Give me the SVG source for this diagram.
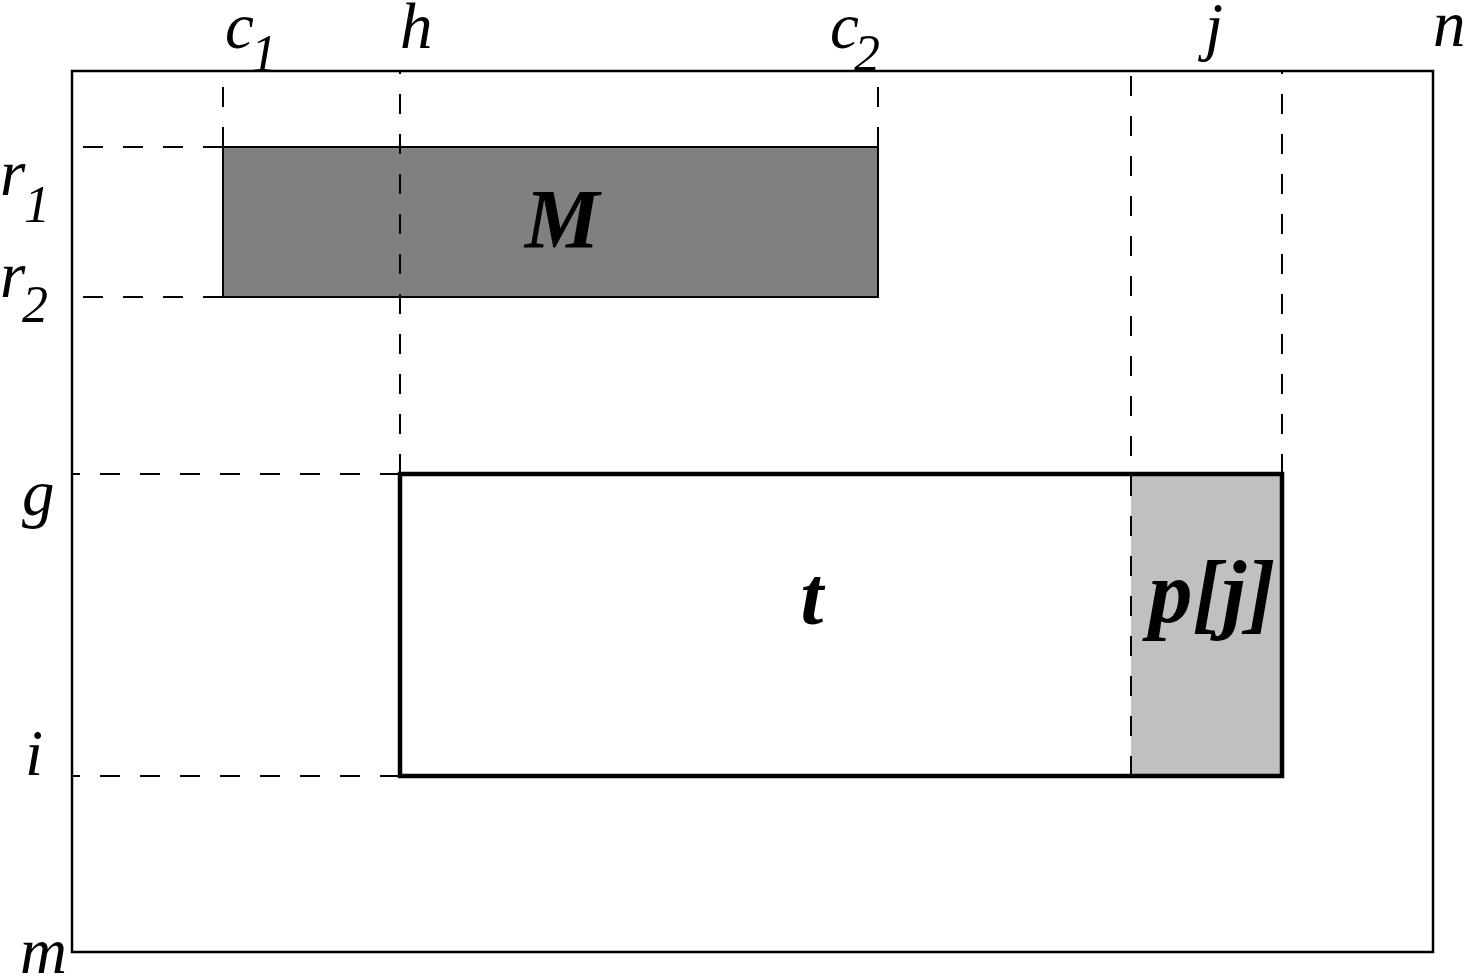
<svg xmlns="http://www.w3.org/2000/svg" width="1465" height="979" viewBox="0 0 1465 979">
<style>
.lbl{font-family:"Liberation Serif","Times New Roman",serif;font-style:italic;font-size:65px;fill:#000}
.sub{font-size:52px}
.big{font-family:"Liberation Serif","Times New Roman",serif;font-style:italic;font-weight:bold;font-size:82px;fill:#000;text-anchor:middle}
.dash{stroke:#000;stroke-width:2;stroke-dasharray:20 20;fill:none}
</style>
<rect width="1465" height="979" fill="#fff"/>
<g id="outer"><rect x="72" y="71" width="1361" height="881" fill="none" stroke="#000" stroke-width="2.5"/></g>
<g id="M">
<rect x="223" y="147" width="655" height="150" fill="#808080" stroke="#000" stroke-width="2"/>
<text class="big" x="562" y="248" style="font-size:84px">M</text>
</g>
<g id="t">
<rect x="400" y="474" width="882" height="302" fill="#fff" stroke="none"/>
<rect x="1131" y="474" width="151" height="302" fill="#c0c0c0" stroke="none"/>
<rect x="400" y="474" width="882" height="302" fill="none" stroke="#000" stroke-width="4.5"/>
<text class="big" x="812" y="624">t</text>
</g>
<g id="pj"><text class="big" x="1212" y="622" style="font-size:88px">p[j]</text></g>
<g id="connectors">
<line class="dash" x1="223" y1="147" x2="223" y2="71"/>
<line class="dash" x1="400" y1="474" x2="400" y2="71"/>
<line class="dash" x1="878" y1="147" x2="878" y2="71"/>
<line class="dash" x1="1131" y1="776" x2="1131" y2="71"/>
<line class="dash" x1="1282" y1="474" x2="1282" y2="71"/>
<line class="dash" x1="223" y1="147" x2="72" y2="147"/>
<line class="dash" x1="223" y1="297" x2="72" y2="297"/>
<line class="dash" x1="400" y1="474" x2="72" y2="474"/>
<line class="dash" x1="400" y1="776" x2="72" y2="776"/>
</g>
<g id="labels">
<text class="lbl" x="225" y="48">c</text><text class="lbl sub" x="251" y="71">1</text>
<text class="lbl" x="400" y="48">h</text>
<text class="lbl" x="830" y="48">c</text><text class="lbl sub" x="854" y="71">2</text>
<text class="lbl" x="1205" y="48">j</text>
<text class="lbl" x="1433" y="46">n</text>
<text class="lbl" x="0" y="195">r</text><text class="lbl sub" x="24" y="222">1</text>
<text class="lbl" x="0" y="297">r</text><text class="lbl sub" x="22" y="322">2</text>
<text class="lbl" x="22" y="515">g</text>
<text class="lbl" x="25" y="775">i</text>
<text class="lbl" x="20" y="973">m</text>
</g>
</svg>
